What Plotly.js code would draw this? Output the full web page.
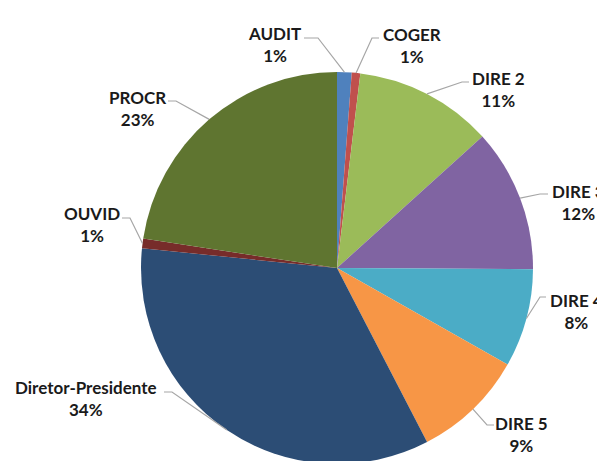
<!DOCTYPE html>
<html>
<head>
<meta charset="utf-8">
<script src="https://cdn.plot.ly/plotly-3.0.1.min.js"></script>
<style>
  html, body { margin: 0; padding: 0; overflow: hidden; background: #fff; }
  #plot { width: 597px; height: 466px; }
</style>
</head>
<body>
<div id="plot"></div>
<script>
// slice data, clockwise from 12 o'clock
const labels = ['AUDIT', 'COGER', 'DIRE 2', 'DIRE 3', 'DIRE 4', 'DIRE 5', 'Diretor-Presidente', 'OUVID', 'PROCR']
const values = [1.2, 0.7, 11.4, 11.8, 8.1, 9.2, 34.2, 0.8, 22.6]
const colors = ['#4F81BD', '#C0504D', '#9BBB59', '#8064A2', '#4BACC6', '#F79646', '#2C4D75', '#772C2A', '#5F7530']

// label text centre (px) and start of leader line (px), per slice
const textPos = [[274, 44], [412, 45], [498, 89], [578, 202], [576, 311], [521, 434], [86, 398], [92, 224], [137, 108]]
const leadStart = [[304, 38], [379, 38], [469, 82], [548, 194], [546, 297], [494, 425], [164, 392], [122, 218], [168, 101]]
const elbowLen = [14, -7, -7, -8, -6, -7, 8, 8, 8]

const W = 597, H = 466
const m = {l: 141, r: 64, t: 72, b: 2}
const pw = W - m.l - m.r, ph = H - m.t - m.b
const cx = m.l + pw / 2, cy = m.t + ph / 2, R = Math.min(pw, ph) / 2

function px2x(px) { return (px - m.l) / pw }
function px2y(py) { return 1 - (py - m.t) / ph }

const total = values.reduce((a, b) => a + b, 0)
let cum = 0
const annotations = []
const shapes = []
values.forEach(function (v, i) {
  const mid = (cum + v / 2) / total * 2 * Math.PI
  cum += v
  const tipX = cx + R * Math.sin(mid)
  const tipY = cy - R * Math.cos(mid)
  const s = leadStart[i]
  const ex = s[0] + elbowLen[i]
  shapes.push({
    type: 'path', xref: 'paper', yref: 'paper',
    path: 'M' + px2x(s[0]) + ',' + px2y(s[1]) + ' L' + px2x(ex) + ',' + px2y(s[1]) +
          ' L' + px2x(tipX) + ',' + px2y(tipY),
    line: {color: '#A6A6A6', width: 1.2}
  })
  const pct = Math.round(v / total * 100)
  annotations.push({
    xref: 'paper', yref: 'paper',
    x: px2x(textPos[i][0]), y: px2y(textPos[i][1]),
    xanchor: 'center', yanchor: 'middle',
    text: labels[i] + '<br>' + pct + '%',
    showarrow: false,
    font: {family: 'Lato, sans-serif', size: 17, color: '#1a1a1a', weight: 'bold'}
  })
})

const trace = {
  type: 'pie',
  labels: labels,
  values: values,
  sort: false,
  direction: 'clockwise',
  rotation: 0,
  marker: {colors: colors, line: {width: 0}},
  textinfo: 'none',
  hoverinfo: 'label+percent'
}

const layout = {
  width: W,
  height: H,
  margin: m,
  showlegend: false,
  paper_bgcolor: '#ffffff',
  plot_bgcolor: '#ffffff',
  annotations: annotations,
  shapes: shapes
}

Plotly.newPlot('plot', [trace], layout, {staticPlot: true})
</script>
</body>
</html>
